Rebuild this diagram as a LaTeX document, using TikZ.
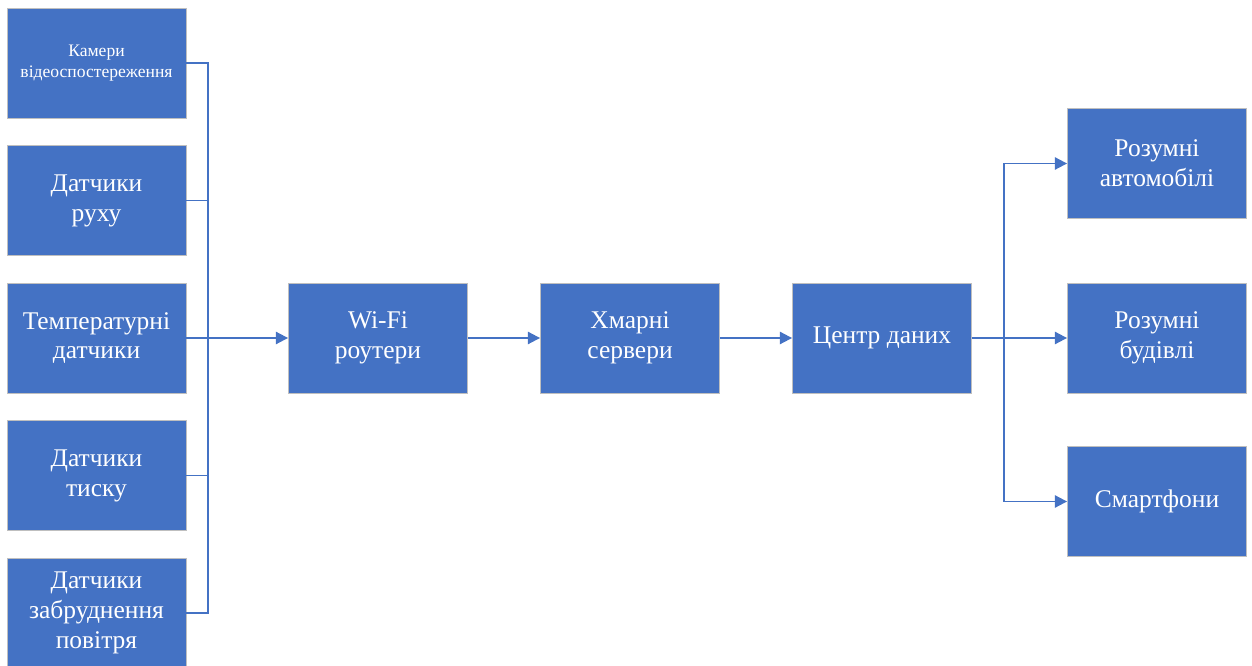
\documentclass[tikz,border=0pt]{standalone}
\usepackage{fontspec}
\setmainfont{Liberation Serif}
\usetikzlibrary{arrows.meta}
\definecolor{boxblue}{HTML}{4472C4}
\definecolor{boxedge}{HTML}{BFBFBF}

\begin{document}
\begin{tikzpicture}[auto, node distance=2.75cm,
                    main node/.style={rectangle,draw=boxedge,line width=0.5pt,fill=boxblue,text=white,
                                      minimum width=3.58cm,minimum height=2.2cm,inner sep=0pt,
                                      align=center,font=\fontsize{14.5}{17}\selectfont},
                    small node/.style={main node,font=\fontsize{10}{12}\selectfont},
                    link/.style={draw=boxblue,line width=1.1pt},
                    arrow/.style={link,-{Triangle[length=7pt,width=7pt]}}]

  \useasboundingbox (0,0) rectangle (25.04,-13.32);

  \node[main node] (3) at (1.93,-6.76) {Температурні\\датчики};
  \node[main node] (2) [above of=3] {Датчики\\руху};
  \node[small node] (1) [above of=2] {Камери\\відеоспостереження};
  \node[main node] (4) [below of=3] {Датчики\\тиску};
  \node[main node] (5) [below of=4] {Датчики\\забруднення\\повітря};

  \node[main node] (6) [node distance=5.63cm, right of=3] {Wi-Fi\\роутери};
  \node[main node] (7) [node distance=5.04cm, right of=6] {Хмарні\\сервери};
  \node[main node] (8) [node distance=5.04cm, right of=7] {Центр даних};

  \node[main node] (10) [node distance=5.5cm, right of=8] {Розумні\\будівлі};
  \node[main node] (9) [node distance=3.49cm, above of=10] {Розумні\\автомобілі};
  \node[main node] (11) [node distance=3.27cm, below of=10] {Смартфони};

  \coordinate (lbus) at ([xshift=0.44cm]3.east);
  \coordinate (rbus) at ([xshift=0.64cm]8.east);

  % sensors to the bus
  \draw[link] (1.east) -| (lbus |- 5.east) -- (5.east);
  \draw[link] (2.east) -- (lbus |- 2.east);
  \draw[link] (4.east) -- (lbus |- 4.east);

\path[every edge/.style={arrow}]
    (3) edge (6)
    (6) edge (7)
    (7) edge (8)
    (8) edge (10);

  \draw[arrow] (rbus) |- (9);
  \draw[arrow] (rbus) |- (11);

\end{tikzpicture}
\end{document}
